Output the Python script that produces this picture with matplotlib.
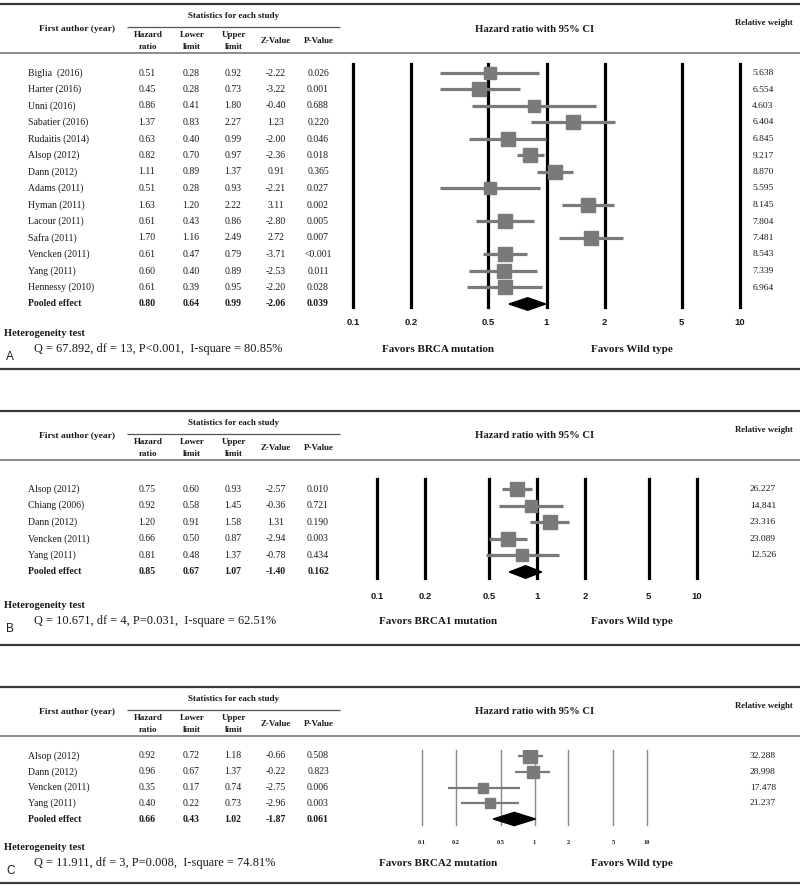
import matplotlib
matplotlib.use("Agg")
import matplotlib.pyplot as plt

plt.rcParams['font.family'] = ['Liberation Serif', 'DejaVu Serif']

# ---- panel A : BRCA mutation vs wild type
names_a = ["Biglia  (2016)", "Harter (2016)", "Unni (2016)", "Sabatier (2016)", "Rudaitis (2014)",
           "Alsop (2012)", "Dann (2012)", "Adams (2011)", "Hyman (2011)", "Lacour (2011)",
           "Safra (2011)", "Vencken (2011)", "Yang (2011)", "Hennessy (2010)"]
hr_a = [0.51, 0.45, 0.86, 1.37, 0.63, 0.82, 1.11, 0.51, 1.63, 0.61, 1.70, 0.61, 0.60, 0.61]
lo_a = [0.28, 0.28, 0.41, 0.83, 0.40, 0.70, 0.89, 0.28, 1.20, 0.43, 1.16, 0.47, 0.40, 0.39]
hi_a = [0.92, 0.73, 1.80, 2.27, 0.99, 0.97, 1.37, 0.93, 2.22, 0.86, 2.49, 0.79, 0.89, 0.95]
z_a = ["-2.22", "-3.22", "-0.40", "1.23", "-2.00", "-2.36", "0.91", "-2.21", "3.11", "-2.80",
       "2.72", "-3.71", "-2.53", "-2.20"]
p_a = ["0.026", "0.001", "0.688", "0.220", "0.046", "0.018", "0.365", "0.027", "0.002", "0.005",
       "0.007", "<0.001", "0.011", "0.028"]
w_a = [5.638, 6.554, 4.603, 6.404, 6.845, 9.217, 8.870, 5.595, 8.145, 7.804, 7.481, 8.543, 7.339, 6.964]
pool_a = [0.80, 0.64, 0.99, "-2.06", "0.039"]
het_a = "Q = 67.892, df = 13, P<0.001,  I-square = 80.85%"
fav_a = "Favors BRCA mutation"

# ---- panel B : BRCA1
names_b = ["Alsop (2012)", "Chiang (2006)", "Dann (2012)", "Vencken (2011)", "Yang (2011)"]
hr_b = [0.75, 0.92, 1.20, 0.66, 0.81]
lo_b = [0.60, 0.58, 0.91, 0.50, 0.48]
hi_b = [0.93, 1.45, 1.58, 0.87, 1.37]
z_b = ["-2.57", "-0.36", "1.31", "-2.94", "-0.78"]
p_b = ["0.010", "0.721", "0.190", "0.003", "0.434"]
w_b = [26.227, 14.841, 23.316, 23.089, 12.526]
pool_b = [0.85, 0.67, 1.07, "-1.40", "0.162"]
het_b = "Q = 10.671, df = 4, P=0.031,  I-square = 62.51%"
fav_b = "Favors BRCA1 mutation"

# ---- panel C : BRCA2
names_c = ["Alsop (2012)", "Dann (2012)", "Vencken (2011)", "Yang (2011)"]
hr_c = [0.92, 0.96, 0.35, 0.40]
lo_c = [0.72, 0.67, 0.17, 0.22]
hi_c = [1.18, 1.37, 0.74, 0.73]
z_c = ["-0.66", "-0.22", "-2.75", "-2.96"]
p_c = ["0.508", "0.823", "0.006", "0.003"]
w_c = [32.288, 28.998, 17.478, 21.237]
pool_c = [0.66, 0.43, 1.02, "-1.87", "0.061"]
het_c = "Q = 11.911, df = 3, P=0.008,  I-square = 74.81%"
fav_c = "Favors BRCA2 mutation"

ticks = [0.1, 0.2, 0.5, 1, 2, 5, 10]
tick_labels = ["0.1", "0.2", "0.5", "1", "2", "5", "10"]

W, H = 800, 885
fig = plt.figure(figsize=(8, 8.85), dpi=100)
bg = fig.add_axes([0, 0, 1, 1])
bg.set_xlim(0, W)
bg.set_ylim(H, 0)
bg.axis('off')

TXT = '#1a1a1a'
BOX = '#7a7a7a'
cols_x = [147, 191, 233, 276, 318]


def rule(y, x0=0, x1=W, c='#3a3a3a', lw=1.6):
    bg.plot([x0, x1], [y, y], color=c, lw=lw, solid_capstyle='butt')


def panel(top, row0, dy, names, hr, lo, hi, z, p, w, pool, het, fav, letter,
          px01, px10, ly0, ly1, tick_y, foot_y, bottom, style):
    # header
    rule(top)
    bg.text(234, top + 12, "Statistics for each study", ha='center', va='center',
            fontsize=6.5, weight='bold', color=TXT)
    rule(top + 23, 127, 340, c='#555555', lw=0.9)
    bg.text(77, top + 25, "First author (year)", ha='center', va='center',
            fontsize=6.8, weight='bold', color=TXT)
    for x, l1, l2 in zip(cols_x[:3], ["Hazard", "Lower", "Upper"], ["ratio", "limit", "limit"]):
        bg.text(x + 1, top + 31, l1, ha='center', va='center', fontsize=6.5, weight='bold', color=TXT)
        bg.text(x + 1, top + 43, l2, ha='center', va='center', fontsize=6.5, weight='bold', color=TXT)
    bg.text(cols_x[3], top + 37, "Z-Value", ha='center', va='center', fontsize=6.5, weight='bold', color=TXT)
    bg.text(cols_x[4] + 1, top + 37, "P-Value", ha='center', va='center', fontsize=6.5, weight='bold', color=TXT)
    bg.text(535, top + 25, "Hazard ratio with 95% CI", ha='center', va='center',
            fontsize=7.7, weight='bold', color=TXT)
    bg.text(764, top + 19, "Relative weight", ha='center', va='center',
            fontsize=6.3, weight='bold', color=TXT)
    rule(top + 49, c='#8a8a8a', lw=1.4)

    # table rows
    n = len(names)
    for i in range(n):
        y = row0 + i * dy
        bg.text(28, y, names[i], ha='left', va='center', fontsize=7, color=TXT)
        vals = [f"{hr[i]:.2f}", f"{lo[i]:.2f}", f"{hi[i]:.2f}", z[i], p[i]]
        for x, v in zip(cols_x, vals):
            bg.text(x, y, v, ha='center', va='center', fontsize=7, color=TXT)
        bg.text(763, y, f"{w[i]:.3f}", ha='center', va='center', fontsize=6.8, color=TXT)
    y = row0 + n * dy
    bg.text(28, y, "Pooled effect", ha='left', va='center', fontsize=7, weight='bold', color=TXT)
    vals = [f"{pool[0]:.2f}", f"{pool[1]:.2f}", f"{pool[2]:.2f}", pool[3], pool[4]]
    for x, v in zip(cols_x, vals):
        bg.text(x, y, v, ha='center', va='center', fontsize=7, weight='bold', color=TXT)

    # forest axes
    ax = fig.add_axes([px01 / W, 1 - ly1 / H, (px10 - px01) / W, (ly1 - ly0) / H])
    ax.set_xscale('log')
    ax.set_xlim(0.1, 10)
    ax.set_ylim(n + (ly1 - (row0 + n * dy)) / dy, -(row0 - ly0) / dy)
    for s in ax.spines.values():
        s.set_visible(False)
    ax.set_yticks([])
    ax.patch.set_alpha(0)
    for t in ticks:
        ax.axvline(t, color=style['vc'], lw=style['vlw'], clip_on=False, zorder=1)
    wmax = max(w)
    for i in range(n):
        ax.hlines(i, lo[i], hi[i], color=BOX, lw=style['cilw'], zorder=2)
        ms = style['ms'] * (w[i] / wmax) ** style['pw']
        ax.plot(hr[i], i, marker='s', ms=ms, color=BOX, mec=BOX, zorder=3)
    hd = style['dh']
    ax.fill([pool[1], pool[0], pool[2], pool[0]], [n, n - hd, n, n + hd], color='black',
            zorder=4, clip_on=False)
    ax.set_xticks(ticks)
    ax.set_xticklabels(tick_labels, fontfamily=style['tf'], fontweight='bold',
                       fontsize=style['ts'], color=TXT)
    ax.xaxis.set_minor_locator(matplotlib.ticker.NullLocator())
    ax.tick_params(axis='x', length=0, pad=(tick_y - ly1) / 1.389 - style['ts'] * 0.45)

    # footer
    bg.text(4, foot_y - 16, "Heterogeneity test", ha='left', va='center', fontsize=7.6,
            weight='bold', color=TXT)
    bg.text(34, foot_y, het, ha='left', va='center', fontsize=8.9, color=TXT)
    bg.text(6, foot_y + 8, letter, ha='left', va='center', fontsize=8.5,
            fontfamily='Liberation Sans', color=TXT)
    bg.text(438, foot_y, fav, ha='center', va='center', fontsize=8, weight='bold', color=TXT)
    bg.text(632, foot_y, "Favors Wild type", ha='center', va='center', fontsize=8,
            weight='bold', color=TXT)
    rule(bottom)


thick = dict(vc='black', vlw=2.3, cilw=2.3, ms=10.5, pw=0.3, dh=0.38, tf='Liberation Sans', ts=6.8)
thin = dict(vc='#8a8a8a', vlw=1.0, cilw=1.6, ms=9.6, pw=0.5, dh=0.42, tf='Liberation Serif', ts=4.6)

panel(4, 73, 16.5, names_a, hr_a, lo_a, hi_a, z_a, p_a, w_a, pool_a, het_a, fav_a, "A",
      353, 740, 64, 307, 322, 349, 369, thick)
panel(411, 489, 16.6, names_b, hr_b, lo_b, hi_b, z_b, p_b, w_b, pool_b, het_b, fav_b, "B",
      377, 697, 479, 578, 596, 621, 645, thick)
panel(687, 756, 15.75, names_c, hr_c, lo_c, hi_c, z_c, p_c, w_c, pool_c, het_c, fav_c, "C",
      422, 647, 750, 825, 843, 863, 883, thin)

fig.savefig("out.png", dpi=100)
